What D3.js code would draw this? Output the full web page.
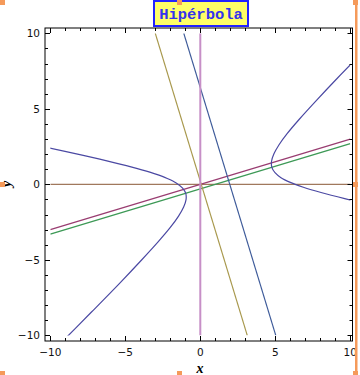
<!DOCTYPE html>
<html>
<head>
<meta charset="utf-8">
<script src="https://d3js.org/d3.v7.min.js"></script>
<style>
    body { margin: 0; background: #fff; }
    .tick-label { font-family: "DejaVu Sans", sans-serif; font-size: 10.5px; fill: #111; }
</style>
</head>
<body>
<div id="chart"></div>
<script>
    var width = 360, height = 375;

    var title = 'Hipérbola';
    var xTicks = [-10, -5, 0, 5, 10];
    var yTicks = [-10, -5, 0, 5, 10];

    // rectas (pares de puntos)
    var ejeY = [[0, -10], [0, 10]];
    var ejeX = [[-10, 0], [10, 0]];
    var ejeU = [[-10, -3.0], [10, 3.0]];
    var ejeV = [[-3.0, 10], [3.13, -10]];
    var ejeU2 = [[-10, -3.3], [10, 2.7]];
    var ejeV2 = [[-1.1, 10], [5.03, -10]];

    // ramas de la hipérbola
    var ramaDer = [[11.68, -1.41], [9.63, -0.94], [8.05, -0.54], [6.87, -0.19], [6.00, 0.13],
        [5.38, 0.44], [4.98, 0.77], [4.77, 1.12], [4.75, 1.53], [4.91, 2.02], [5.25, 2.62],
        [5.80, 3.37], [6.60, 4.31], [7.70, 5.51], [9.15, 7.04], [11.07, 8.99]];
    var ramaIzq = [[-9.76, -10.97], [-7.27, -8.47], [-5.35, -6.52], [-3.90, -4.99], [-2.80, -3.79],
        [-2.00, -2.85], [-1.45, -2.10], [-1.11, -1.50], [-0.95, -1.01], [-0.97, -0.60],
        [-1.18, -0.25], [-1.58, 0.08], [-2.20, 0.39], [-3.07, 0.71], [-4.25, 1.06],
        [-5.83, 1.46], [-7.88, 1.93], [-10.56, 2.51]];

    var svg = d3.select('#chart').append('svg')
        .attr('width', width)
        .attr('height', height);

    var xScale = d3.scaleLinear().domain([-10, 10]).range([50.3, 350.3]);
    var yScale = d3.scaleLinear().domain([-10, 10]).range([335.4, 33.3]);

    var frame = {left: 45, right: 352.5, top: 28, bottom: 341};

    svg.append('clipPath').attr('id', 'clip')
        .append('rect')
        .attr('x', xScale(-10)).attr('y', yScale(10))
        .attr('width', xScale(10) - xScale(-10))
        .attr('height', yScale(-10) - yScale(10));

    var line = d3.line()
        .x(function (d) { return xScale(d[0]); })
        .y(function (d) { return yScale(d[1]); });

    var curve = d3.line()
        .curve(d3.curveCatmullRom)
        .x(function (d) { return xScale(d[0]); })
        .y(function (d) { return yScale(d[1]); });

    var plot = svg.append('g').attr('clip-path', 'url(#clip)');

    var rectas = [
        {data: ejeX, color: '#a0785c', w: 1.3},
        {data: ejeU2, color: '#3d9956', w: 1.3},
        {data: ejeU, color: '#993d71', w: 1.3},
        {data: ejeV, color: '#a8984c', w: 1.2},
        {data: ejeV2, color: '#3d5a99', w: 1.2},
        {data: ejeY, color: '#c78fc7', w: 2}
    ];

    plot.selectAll('path.recta')
        .data(rectas)
        .enter()
        .append('path')
        .attr('class', 'recta')
        .attr('d', function (d) { return line(d.data); })
        .attr('stroke', function (d) { return d.color; })
        .attr('stroke-width', function (d) { return d.w; })
        .attr('fill', 'none');

    plot.selectAll('path.rama')
        .data([ramaIzq, ramaDer])
        .enter()
        .append('path')
        .attr('class', 'rama')
        .attr('d', curve)
        .attr('stroke', '#4b49a3')
        .attr('stroke-width', 1.2)
        .attr('fill', 'none');

    // marco
    svg.append('rect')
        .attr('x', frame.left).attr('y', frame.top)
        .attr('width', frame.right - frame.left)
        .attr('height', frame.bottom - frame.top)
        .attr('fill', 'none')
        .attr('stroke', '#000')
        .attr('stroke-width', 1);

    var minor = d3.range(-10, 11);
    var tickLen = function (v) { return v % 5 === 0 ? 5 : 3; };

    var ticks = svg.append('g').attr('stroke', '#000').attr('stroke-width', 1);
    minor.forEach(function (v) {
        var x = Math.round(xScale(v)) + 0.5;
        var y = Math.round(yScale(v)) + 0.5;
        ticks.append('line').attr('x1', x).attr('x2', x)
            .attr('y1', frame.bottom).attr('y2', frame.bottom - tickLen(v));
        ticks.append('line').attr('x1', x).attr('x2', x)
            .attr('y1', frame.top).attr('y2', frame.top + tickLen(v));
        ticks.append('line').attr('y1', y).attr('y2', y)
            .attr('x1', frame.left).attr('x2', frame.left + tickLen(v));
        ticks.append('line').attr('y1', y).attr('y2', y)
            .attr('x1', frame.right).attr('x2', frame.right - tickLen(v));
    });

    var fmt = function (v) { return v < 0 ? '\u2212' + Math.abs(v) : '' + v; };

    svg.selectAll('text.xt')
        .data(xTicks)
        .enter()
        .append('text')
        .attr('class', 'tick-label')
        .attr('x', function (d) { return xScale(d); })
        .attr('y', 356)
        .attr('text-anchor', 'middle')
        .text(fmt);

    svg.selectAll('text.yt')
        .data(yTicks)
        .enter()
        .append('text')
        .attr('class', 'tick-label')
        .attr('x', 40)
        .attr('y', function (d) { return yScale(d) + 4; })
        .attr('text-anchor', 'end')
        .text(fmt);

    // etiquetas de ejes
    svg.append('text')
        .attr('x', 200).attr('y', 373)
        .attr('text-anchor', 'middle')
        .style('font-family', '"Liberation Serif", serif')
        .style('font-style', 'italic')
        .style('font-weight', 'bold')
        .style('font-size', '14px')
        .text('x');

    svg.append('text')
        .attr('transform', 'translate(11,184) rotate(-90)')
        .attr('text-anchor', 'middle')
        .style('font-family', '"Liberation Serif", serif')
        .style('font-style', 'italic')
        .style('font-weight', 'bold')
        .style('font-size', '14px')
        .text('y');

    // título
    svg.append('rect')
        .attr('x', 154).attr('y', 1)
        .attr('width', 94).attr('height', 25)
        .attr('fill', '#ffff66')
        .attr('stroke', '#2222ff')
        .attr('stroke-width', 2);

    svg.append('text')
        .attr('x', 201).attr('y', 19)
        .attr('text-anchor', 'middle')
        .style('font-family', '"Liberation Mono", monospace')
        .style('font-weight', 'bold')
        .style('font-size', '15.5px')
        .style('fill', '#3333ee')
        .text(title);

    // marcas naranjas de selección
    var handles = svg.append('g').attr('fill', '#f59a5a');
    handles.append('rect').attr('x', 355).attr('y', 0).attr('width', 2.5).attr('height', height);
    [[0, 0], [177, 0], [353, 0], [0, 182], [353, 182], [0, 371], [177, 371], [353, 371]].forEach(function (p) {
        handles.append('rect').attr('x', p[0]).attr('y', p[1]).attr('width', 5).attr('height', 5);
    });
</script>
</body>
</html>
